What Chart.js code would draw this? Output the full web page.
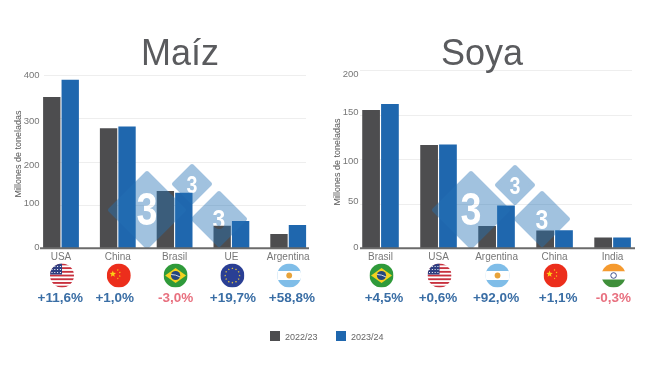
<!DOCTYPE html>
<html>
<head>
<meta charset="utf-8">
<script src="https://cdn.jsdelivr.net/npm/chart.js@4"></script>
<style>
  html, body { margin: 0; padding: 0; background: #fff; }
  body { width: 650px; height: 366px; position: relative; overflow: hidden; font-family: "Liberation Sans", Arial, sans-serif; }
  canvas { position: absolute; top: 0; }
  #maiz { left: 0; }
  #soya { left: 325px; }
  .title { position: absolute; top: 31px; font-size: 36px; line-height: 44px; color: #5a5b5e; transform: translateX(-50%); }
  .legend { position: absolute; top: 331px; font-size: 9px; line-height: 13px; color: #666; }
  .legend i { position: absolute; left: -15px; top: 0; width: 10px; height: 10px; }
</style>
</head>
<body>
<canvas id="maiz" width="325" height="366"></canvas>
<canvas id="soya" width="325" height="366"></canvas>
<div class="title" style="left:180px">Maíz</div>
<div class="title" style="left:482px">Soya</div>
<div class="legend" style="left:285px"><i style="background:#4d4d4f"></i>2022/23</div>
<div class="legend" style="left:351px"><i style="background:#1f67ae"></i>2023/24</div>
<script>
const seriesNames = ['2022/23', '2023/24'];
const axisTitle = 'Millones de toneladas';

const maizCategories = ['USA', 'China', 'Brasil', 'UE', 'Argentina'];
const maiz2223 = [349, 277, 132, 52, 33];
const maiz2324 = [389, 281, 128, 63, 54];
const maizChanges = ['+11,6%', '+1,0%', '-3,0%', '+19,7%', '+58,8%'];
const maizFlags = ['usa', 'china', 'brasil', 'ue', 'argentina'];

const soyaCategories = ['Brasil', 'USA', 'Argentina', 'China', 'India'];
const soya2223 = [155, 116, 25, 20, 12];
const soya2324 = [162, 116.5, 48, 20.3, 12];
const soyaChanges = ['+4,5%', '+0,6%', '+92,0%', '+1,1%', '-0,3%'];
const soyaFlags = ['brasil', 'usa', 'argentina', 'china', 'india'];

const GRAY = '#4d4d4f';
const BLUE = '#1f67ae';
const FONT = '"Liberation Sans", Arial, sans-serif';

function star(ctx, x, y, r, rot) {
  ctx.beginPath();
  for (let i = 0; i < 10; i++) {
    const a = rot - Math.PI / 2 + i * Math.PI / 5;
    const d = i % 2 ? r * 0.42 : r;
    ctx.lineTo(x + Math.cos(a) * d, y + Math.sin(a) * d);
  }
  ctx.closePath();
  ctx.fill();
}

// flags are drawn in a 24px box centred on 0,0
const flagPainters = {
  usa(ctx) {
    ctx.fillStyle = '#fff';
    ctx.fillRect(-12, -12, 24, 24);
    ctx.fillStyle = '#c8313e';
    for (let i = 0; i < 7; i++) ctx.fillRect(-12, -12 + i * 3.7, 24, 1.85);
    ctx.fillStyle = '#2f3f82';
    ctx.fillRect(-12, -12, 12, 11);
    ctx.fillStyle = '#fff';
    for (let r = 0; r < 3; r++) for (let c = 0; c < 4; c++) ctx.fillRect(-10.5 + c * 2.8, -9.5 + r * 3, 1, 1);
  },
  china(ctx) {
    ctx.fillStyle = '#ec2e1c';
    ctx.fillRect(-12, -12, 24, 24);
    ctx.fillStyle = '#fbd116';
    star(ctx, -6, -1.5, 3.4, 0);
    star(ctx, -1, -5.5, 1, 0.4);
    star(ctx, 1, -3, 1, 0.8);
    star(ctx, 1, 0.5, 1, 0.2);
    star(ctx, -1, 3, 1, 0.6);
  },
  brasil(ctx) {
    ctx.fillStyle = '#2f9a3a';
    ctx.fillRect(-12, -12, 24, 24);
    ctx.fillStyle = '#f4d21f';
    ctx.beginPath();
    ctx.moveTo(-10.5, 0); ctx.lineTo(0, -7.5); ctx.lineTo(10.5, 0); ctx.lineTo(0, 7.5);
    ctx.closePath();
    ctx.fill();
    ctx.fillStyle = '#24477e';
    ctx.beginPath();
    ctx.arc(0, 0, 4.6, 0, Math.PI * 2);
    ctx.fill();
    ctx.strokeStyle = '#fff';
    ctx.lineWidth = 0.8;
    ctx.beginPath();
    ctx.moveTo(-4.4, -1); ctx.quadraticCurveTo(0, -1, 4.4, 1.4);
    ctx.stroke();
  },
  ue(ctx) {
    ctx.fillStyle = '#2a3f94';
    ctx.fillRect(-12, -12, 24, 24);
    ctx.fillStyle = '#f5d33a';
    for (let i = 0; i < 12; i++) {
      const a = i * Math.PI / 6;
      star(ctx, Math.cos(a) * 7.2, Math.sin(a) * 7.2, 1.1, 0);
    }
  },
  argentina(ctx) {
    ctx.fillStyle = '#7fbde8';
    ctx.fillRect(-12, -12, 24, 24);
    ctx.fillStyle = '#fff';
    ctx.fillRect(-12, -4.5, 24, 9);
    ctx.fillStyle = '#e8a33a';
    ctx.beginPath();
    ctx.arc(0, 0, 2.9, 0, Math.PI * 2);
    ctx.fill();
  },
  india(ctx) {
    ctx.fillStyle = '#f59a2f';
    ctx.fillRect(-12, -12, 24, 8);
    ctx.fillStyle = '#fff';
    ctx.fillRect(-12, -4, 24, 8);
    ctx.fillStyle = '#3f8f3a';
    ctx.fillRect(-12, 4, 24, 8);
    ctx.strokeStyle = '#2f3f82';
    ctx.lineWidth = 0.9;
    ctx.beginPath();
    ctx.arc(0, 0, 2.8, 0, Math.PI * 2);
    ctx.stroke();
  }
};

// semi transparent logo, the 3 is cut out so the bars show through unchanged
function drawLogo(ctx, cx, cy, half, digit) {
  const off = document.createElement('canvas');
  off.width = off.height = half * 2 + 4;
  const o = off.getContext('2d');
  const c = half + 2;
  o.fillStyle = '#2572b5';
  o.strokeStyle = '#2572b5';
  o.lineWidth = 4;
  o.lineJoin = 'round';
  o.beginPath();
  o.moveTo(c - half + 2, c); o.lineTo(c, c - half + 2); o.lineTo(c + half - 2, c); o.lineTo(c, c + half - 2);
  o.closePath();
  o.fill();
  o.stroke();
  o.globalCompositeOperation = 'destination-out';
  o.translate(c, c + 2);
  o.scale(0.82, 1);
  o.font = 'bold ' + digit + 'px ' + FONT;
  o.textAlign = 'center';
  o.textBaseline = 'middle';
  o.fillText('3', 0, 0);
  ctx.save();
  ctx.globalAlpha = 0.43;
  ctx.drawImage(off, cx - c, cy - c);
  ctx.restore();
}

function makeChart(id, cfg) {
  const decorations = {
    id: 'decorations',
    beforeDatasetsDraw(chart) {
      const { ctx, scales: { x, y } } = chart;
      ctx.save();
      ctx.strokeStyle = '#eeeeee';
      ctx.lineWidth = 1;
      y.ticks.forEach((t) => {
        if (t.value === 0) return;
        const py = Math.round(y.getPixelForValue(t.value)) + 0.5;
        ctx.beginPath();
        ctx.moveTo(cfg.gridFrom, py);
        ctx.lineTo(cfg.gridTo, py);
        ctx.stroke();
      });
      ctx.restore();
    },
    afterDatasetsDraw(chart) {
      const { ctx, scales: { x, y } } = chart;
      ctx.save();
      cfg.logos.forEach((l) => drawLogo(ctx, l[0], l[1], l[2], l[3]));
      ctx.strokeStyle = '#6b6b6b';
      ctx.lineWidth = 2;
      const py = y.getPixelForValue(0);
      ctx.beginPath();
      ctx.moveTo(cfg.axisFrom, py);
      ctx.lineTo(cfg.axisTo, py);
      ctx.stroke();
      ctx.restore();

      // the y labels in the original sit slightly off their gridlines
      ctx.save();
      ctx.font = '9.5px ' + FONT;
      ctx.fillStyle = '#777';
      ctx.textAlign = 'right';
      ctx.textBaseline = 'middle';
      y.ticks.forEach((t, i) => {
        ctx.fillText(String(t.value), cfg.tickRight, y.getPixelForValue(t.value) + cfg.tickNudge[i]);
      });
      ctx.restore();

      ctx.save();
      ctx.translate(cfg.titleX, cfg.titleY);
      ctx.rotate(-Math.PI / 2);
      ctx.font = '9px ' + FONT;
      ctx.fillStyle = '#555';
      ctx.textAlign = 'center';
      ctx.textBaseline = 'middle';
      ctx.fillText(axisTitle, 0, 0);
      ctx.restore();

      cfg.labels.forEach((label, i) => {
        const cx = x.getPixelForValue(i);
        ctx.save();
        ctx.translate(cx + 1, 275.5);
        ctx.beginPath();
        ctx.arc(0, 0, 12, 0, Math.PI * 2);
        ctx.clip();
        flagPainters[cfg.flags[i]](ctx);
        ctx.restore();

        ctx.save();
        ctx.font = 'bold 13.5px ' + FONT;
        ctx.textAlign = 'center';
        ctx.textBaseline = 'middle';
        ctx.fillStyle = cfg.changes[i][0] === '-' ? '#e8707f' : '#3a6ea5';
        ctx.fillText(cfg.changes[i], cx + 1 + cfg.changeNudge[i], 298.5);
        ctx.restore();
      });
    }
  };

  return new Chart(document.getElementById(id), {
    type: 'bar',
    data: {
      labels: cfg.labels,
      datasets: [
        { label: seriesNames[0], data: cfg.first, backgroundColor: GRAY },
        { label: seriesNames[1], data: cfg.second, backgroundColor: BLUE }
      ]
    },
    plugins: [decorations],
    options: {
      responsive: false,
      animation: false,
      categoryPercentage: 0.65,
      barPercentage: 0.94,
      layout: { padding: { top: cfg.top, right: 8.4, left: 0, bottom: 0 } },
      plugins: { legend: { display: false }, title: { display: false }, tooltip: { enabled: false } },
      scales: {
        x: {
          grid: { display: false, drawTicks: false },
          border: { display: false },
          ticks: { color: '#777', font: { family: FONT, size: 10 }, padding: 3, maxRotation: 0, autoSkip: false },
          afterFit: (s) => { s.height = 117.7; }
        },
        y: {
          min: 0,
          max: cfg.max,
          grid: { display: false, drawTicks: false },
          border: { display: false },
          ticks: { stepSize: cfg.step, display: false },
          afterFit: (s) => { s.width = cfg.left; }
        }
      }
    }
  });
}

makeChart('maiz', {
  labels: maizCategories, first: maiz2223, second: maiz2324, changes: maizChanges, flags: maizFlags,
  max: 400, step: 100, top: 75, left: 32.6, tickRight: 39.5, titleX: 19, titleY: 154,
  tickNudge: [-0.5, -2, 4, 3, 0.7],
  changeNudge: [-1.7, -4, 0, 0.5, 2.7],
  gridFrom: 44, gridTo: 306, axisFrom: 40, axisTo: 309,
  logos: [[147, 210, 39, 46], [192, 184, 20, 24], [219, 219, 28, 28]]
});

makeChart('soya', {
  labels: soyaCategories, first: soya2223, second: soya2324, changes: soyaChanges, flags: soyaFlags,
  max: 200, step: 50, top: 70, left: 26.5, tickRight: 33.5, titleX: 13, titleY: 162,
  tickNudge: [-1, -2, 2, -2, 4],
  changeNudge: [2.5, -1.5, -1.5, 2.5, -0.3],
  gridFrom: 35, gridTo: 307, axisFrom: 35, axisTo: 310,
  logos: [[146, 210, 39, 46], [190, 185, 20, 24], [217, 219, 28, 28]]
});
</script>
</body>
</html>
